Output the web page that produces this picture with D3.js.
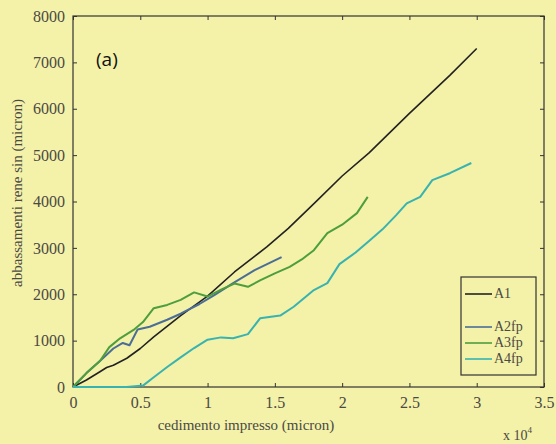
<!DOCTYPE html>
<html>
<head>
<meta charset="utf-8">
<script src="https://cdn.jsdelivr.net/npm/d3@7"></script>
<style>
  html, body { margin: 0; padding: 0; background: #F4F1A8; }
  #chart { width: 556px; height: 444px; }
</style>
</head>
<body>
<div id="chart"></div>
<script>
// Dati (x in unità di 10^4 micron, y in micron)
const xA1 = [0, 0.1, 0.2, 0.25, 0.3, 0.4, 0.5, 0.6, 0.8, 1.0, 1.2, 1.44, 1.6, 1.8, 2.0, 2.2, 2.5, 2.8, 3.0];
const yA1 = [0, 150, 330, 420, 470, 620, 830, 1080, 1540, 1960, 2480, 3020, 3420, 3980, 4550, 5050, 5900, 6720, 7300];

const xA2 = [0, 0.1, 0.2, 0.3, 0.37, 0.42, 0.48, 0.57, 0.7, 0.8, 0.94, 1.05, 1.19, 1.35, 1.55];
const yA2 = [0, 300, 560, 830, 950, 900, 1240, 1300, 1450, 1580, 1790, 1980, 2240, 2520, 2800];

const xA3 = [0, 0.1, 0.2, 0.27, 0.35, 0.45, 0.52, 0.6, 0.7, 0.8, 0.9, 1.0, 1.1, 1.2, 1.3, 1.39, 1.5, 1.61, 1.7, 1.79, 1.89, 2.0, 2.11, 2.19];
const yA3 = [0, 300, 560, 860, 1050, 1230, 1400, 1700, 1770, 1880, 2040, 1950, 2100, 2230, 2160, 2300, 2450, 2590, 2750, 2950, 3320, 3500, 3750, 4100];

const xA4 = [0, 0.1, 0.2, 0.3, 0.4, 0.52, 0.6, 0.7, 0.8, 0.9, 1.0, 1.1, 1.19, 1.3, 1.39, 1.54, 1.64, 1.79, 1.89, 1.98, 2.1, 2.2, 2.3, 2.4, 2.48, 2.58, 2.67, 2.8, 2.96];
const yA4 = [0, 0, 0, 0, 0, 30, 210, 430, 640, 840, 1020, 1070, 1050, 1140, 1480, 1540, 1730, 2090, 2240, 2650, 2900, 3150, 3400, 3700, 3960, 4100, 4460, 4610, 4830];

const seriesNames = ['A1', 'A2fp', 'A3fp', 'A4fp'];
const xTicks = [0, 0.5, 1, 1.5, 2, 2.5, 3, 3.5];
const yTicks = [0, 1000, 2000, 3000, 4000, 5000, 6000, 7000, 8000];

//Colori
const COLOR_BG = '#F4F1A8',
  COLOR_A1 = '#222222',
  COLOR_A2 = '#4A6E96',
  COLOR_A3 = '#4E9E3E',
  COLOR_A4 = '#38B3B0',
  COLOR_TEXT = '#4a4a44';

const series = [
  { name: seriesNames[0], xs: xA1, ys: yA1, color: COLOR_A1 },
  { name: seriesNames[1], xs: xA2, ys: yA2, color: COLOR_A2 },
  { name: seriesNames[2], xs: xA3, ys: yA3, color: COLOR_A3 },
  { name: seriesNames[3], xs: xA4, ys: yA4, color: COLOR_A4 }
];

let margin = { top: 16, right: 12, bottom: 57, left: 73 },
  width = 556 - margin.left - margin.right,
  height = 444 - margin.top - margin.bottom;

let svg = d3.select('#chart')
  .append('svg')
    .attr('width', 556)
    .attr('height', 444)
    .style('background', COLOR_BG);

let g = svg.append('g')
  .attr('transform', 'translate(' + margin.left + ',' + margin.top + ')');

let x = d3.scaleLinear().domain([0, 3.5]).range([0, width]);
let y = d3.scaleLinear().domain([0, 8000]).range([height, 0]);

const serif = "'Liberation Serif', 'Times New Roman', serif";

// Assi (tick verso l'interno, stile matlab)
function styleAxis(sel) {
  sel.attr('font-family', serif);
  sel.select('.domain').remove();
  sel.selectAll('line').attr('stroke', '#333').attr('stroke-width', 1);
  sel.selectAll('text')
    .style('font-family', serif)
    .attr('font-size', '16px')
    .attr('fill', COLOR_TEXT);
}

g.append('g')
  .attr('transform', 'translate(0,' + height + ')')
  .call(d3.axisBottom(x).tickValues(xTicks).tickSizeInner(-4).tickSizeOuter(0).tickPadding(10).tickFormat(d3.format('')))
  .call(styleAxis);

g.append('g')
  .call(d3.axisLeft(y).tickValues(yTicks).tickSizeInner(-4).tickSizeOuter(0).tickPadding(8).tickFormat(d3.format('d')))
  .call(styleAxis);

g.append('g')
  .call(d3.axisTop(x).tickValues(xTicks).tickSizeInner(-4).tickSizeOuter(0).tickFormat(''))
  .call(styleAxis);

g.append('g')
  .attr('transform', 'translate(' + width + ',0)')
  .call(d3.axisRight(y).tickValues(yTicks).tickSizeInner(-4).tickSizeOuter(0).tickFormat(''))
  .call(styleAxis);

// Riquadro
g.append('rect')
  .attr('width', width)
  .attr('height', height)
  .attr('fill', 'none')
  .attr('stroke', '#333')
  .attr('stroke-width', 1.2);

// Linee
let line = d3.line()
  .x(function(d) { return x(d[0]); })
  .y(function(d) { return y(d[1]); });

series.forEach(function(s) {
  g.append('path')
    .datum(s.xs.map(function(v, i) { return [v, s.ys[i]]; }))
    .attr('fill', 'none')
    .attr('stroke', s.color)
    .attr('stroke-width', s.name === 'A1' ? 1.6 : 2)
    .attr('stroke-linejoin', 'round')
    .attr('d', line);
});

// Legenda
let legend = g.append('g')
  .attr('transform', 'translate(' + (461 - margin.left) + ',' + (277 - margin.top) + ')');

legend.append('rect')
  .attr('width', 75)
  .attr('height', 98)
  .attr('fill', COLOR_BG)
  .attr('stroke', '#333')
  .attr('stroke-width', 1.2);

const legendY = [17, 50, 66, 82];
series.forEach(function(s, i) {
  legend.append('line')
    .attr('x1', 4).attr('x2', 31)
    .attr('y1', legendY[i]).attr('y2', legendY[i])
    .attr('stroke', s.color)
    .attr('stroke-width', 1.6);
  legend.append('text')
    .attr('x', 33)
    .attr('y', legendY[i] + 4)
    .attr('font-family', serif)
    .attr('font-size', '14px')
    .attr('fill', COLOR_TEXT)
    .text(s.name);
});

// Titoli assi
svg.append('text')
  .attr('x', 246)
  .attr('y', 430)
  .attr('text-anchor', 'middle')
  .attr('font-family', serif)
  .attr('font-size', '15px')
  .attr('fill', COLOR_TEXT)
  .text('cedimento impresso (micron)');

svg.append('text')
  .attr('transform', 'translate(22,193) rotate(-90)')
  .attr('text-anchor', 'middle')
  .attr('font-family', serif)
  .attr('font-size', '15px')
  .attr('fill', COLOR_TEXT)
  .text('abbassamenti rene sin (micron)');

// Esponente x10^4
let expo = svg.append('text')
  .attr('x', 503)
  .attr('y', 440)
  .attr('font-family', serif)
  .attr('font-size', '14px')
  .attr('fill', COLOR_TEXT);
expo.append('tspan').text('x 10');
expo.append('tspan').attr('dy', -7).attr('font-size', '9px').text('4');

// Etichetta (a)
svg.append('text')
  .attr('x', 96)
  .attr('y', 66)
  .attr('font-family', 'Open Sans, sans-serif')
  .attr('font-size', '19px')
  .attr('fill', '#111')
  .text('(a)');
</script>
</body>
</html>
